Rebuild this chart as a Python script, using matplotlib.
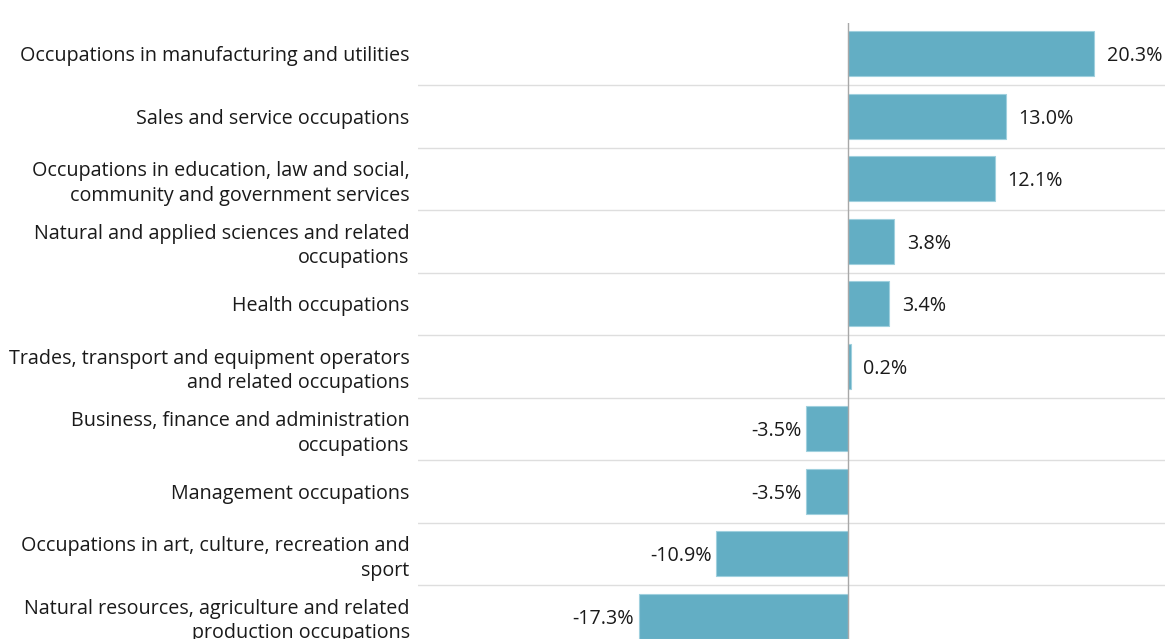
import matplotlib
matplotlib.use("Agg")
from matplotlib import pyplot as plt

categories = [
    "Occupations in manufacturing and utilities",
    "Sales and service occupations",
    "Occupations in education, law and social,\ncommunity and government services",
    "Natural and applied sciences and related\noccupations",
    "Health occupations",
    "Trades, transport and equipment operators\nand related occupations",
    "Business, finance and administration\noccupations",
    "Management occupations",
    "Occupations in art, culture, recreation and\nsport",
    "Natural resources, agriculture and related\nproduction occupations",
]
values = [20.3, 13.0, 12.1, 3.8, 3.4, 0.2, -3.5, -3.5, -10.9, -17.3]
value_labels = ["20.3%", "13.0%", "12.1%", "3.8%", "3.4%", "0.2%",
                "-3.5%", "-3.5%", "-10.9%", "-17.3%"]

plt.rcParams['font.family'] = ['Open Sans', 'DejaVu Sans']
text_color = '#1a1a1a'
bar_color = '#63aec4'
fs = 14.2

W, H = 1165, 639
fig = plt.figure(figsize=(W / 100, H / 100), dpi=100)
ax_left = 418 / W
ax_top = 22.5 / H
ax_bottom = 647.5 / H
ax = fig.add_axes([ax_left, 1 - ax_bottom, 1 - ax_left, ax_bottom - ax_top])

n = len(categories)
ypos = list(range(n))
ax.barh(ypos, values, height=0.72, color=bar_color, edgecolor='#9fd0de',
        linewidth=0.8, zorder=2)
ax.set_ylim(n - 0.5, -0.5)
ax.set_xlim(-35.5, 26.15)

# row separators
for i in range(n - 1):
    ax.axhline(i + 0.5, color='#dedede', linewidth=1, zorder=1)
ax.axvline(0, color='#a8a8a8', linewidth=1, zorder=3)

for y, v, lab in zip(ypos, values, value_labels):
    if v >= 0:
        ax.annotate(lab, (v, y), xytext=(9, 0), textcoords='offset points',
                    ha='left', va='center_baseline', fontsize=fs,
                    color=text_color)
    else:
        ax.annotate(lab, (v, y), xytext=(-3, 0), textcoords='offset points',
                    ha='right', va='center_baseline', fontsize=fs,
                    color=text_color)

ax.set_yticks(ypos)
ax.set_yticklabels(categories, fontsize=fs, color=text_color,
                   linespacing=1.3)
ax.tick_params(axis='y', length=0, pad=6)
ax.set_xticks([])
for s in ax.spines.values():
    s.set_visible(False)

fig.savefig('out.png', dpi=100)
